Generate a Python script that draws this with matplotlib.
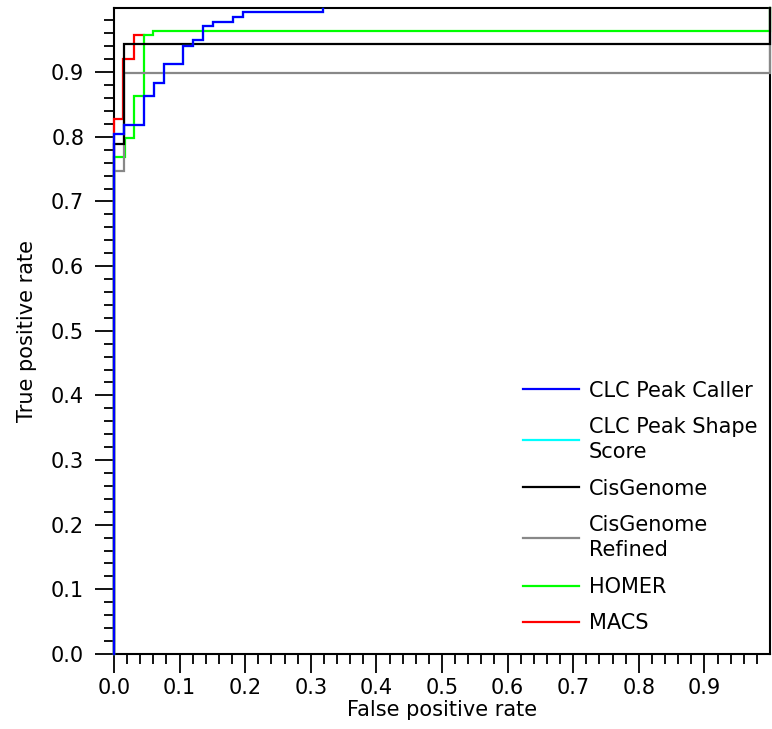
import matplotlib
matplotlib.use("Agg")
import matplotlib.pyplot as plt
import numpy as np

plt.rcParams['font.family'] = ['DejaVu Sans']

# ROC step curves (FPR, TPR)
clc_fpr = [0.0, 0.0, 0.015, 0.015, 0.046, 0.046, 0.061, 0.061, 0.076, 0.076, 0.105, 0.105,
           0.121, 0.121, 0.136, 0.136, 0.151, 0.151, 0.182, 0.182, 0.197, 0.197, 0.318, 0.318]
clc_tpr = [0.0, 0.804, 0.804, 0.819, 0.819, 0.863, 0.863, 0.883, 0.883, 0.913, 0.913, 0.941,
           0.941, 0.949, 0.949, 0.971, 0.971, 0.978, 0.978, 0.985, 0.985, 0.993, 0.993, 0.997]

shape_fpr = clc_fpr
shape_tpr = clc_tpr

cis_fpr = [0.0, 0.0, 0.015, 0.015, 1.0, 1.0]
cis_tpr = [0.0, 0.789, 0.789, 0.943, 0.943, 1.0]

cisref_fpr = [0.0, 0.0, 0.015, 0.015, 1.0, 1.0]
cisref_tpr = [0.0, 0.747, 0.747, 0.899, 0.899, 1.0]

homer_fpr = [0.0, 0.0, 0.017, 0.017, 0.031, 0.031, 0.045, 0.045, 0.060, 0.060, 1.0, 1.0]
homer_tpr = [0.0, 0.768, 0.768, 0.798, 0.798, 0.863, 0.863, 0.957, 0.957, 0.964, 0.964, 1.0]

macs_fpr = [0.0, 0.0, 0.013, 0.013, 0.030, 0.030, 0.045]
macs_tpr = [0.0, 0.827, 0.827, 0.920, 0.920, 0.957, 0.957]

labels = ["CLC Peak Caller", "CLC Peak Shape\nScore", "CisGenome",
          "CisGenome\nRefined", "HOMER", "MACS"]
colors = ["#0000ff", "#00ffff", "#000000", "#888888", "#00ff00", "#ff0000"]
series = [(clc_fpr, clc_tpr), (shape_fpr, shape_tpr), (cis_fpr, cis_tpr),
          (cisref_fpr, cisref_tpr), (homer_fpr, homer_tpr), (macs_fpr, macs_tpr)]

x_ticks = [0.0, 0.1, 0.2, 0.3, 0.4, 0.5, 0.6, 0.7, 0.8, 0.9]
y_ticks = [0.0, 0.1, 0.2, 0.3, 0.4, 0.5, 0.6, 0.7, 0.8, 0.9]

FS = 15

fig = plt.figure(figsize=(7.72, 7.29), dpi=100)
ax = fig.add_axes([114/772, 75/729, 656/772, 646.5/729])

n = len(series)
handles = [None]*n
for i in reversed(range(n)):
    fx, ty = series[i]
    h, = ax.plot(fx, ty, color=colors[i], lw=1.6, zorder=2 + (n - i),
                 solid_joinstyle='miter', clip_on=False)
    handles[i] = h

ax.set_xlim(0, 1)
ax.set_ylim(0, 1)
ax.set_xticks(x_ticks)
ax.set_yticks(y_ticks)
ax.set_xticklabels([f"{v:.1f}" for v in x_ticks])
ax.set_yticklabels([f"{v:.1f}" for v in y_ticks])
ax.set_xticks(np.arange(0, 1.0, 0.02), minor=True)
ax.set_yticks(np.arange(0, 1.0, 0.02), minor=True)
ax.tick_params(which='major', length=13.5, width=1.3, labelsize=FS, pad=4, direction='out')
ax.tick_params(which='minor', length=7, width=1.3, direction='out')
ax.tick_params(axis='y', which='major', pad=8)
for s in ax.spines.values():
    s.set_linewidth(1.5)

ax.set_xlabel("False positive rate", fontsize=FS, labelpad=1)
ax.set_ylabel("True positive rate", fontsize=FS, labelpad=10)

leg = ax.legend(handles, labels, loc='lower right', frameon=False, fontsize=FS,
                handlelength=2.7, handletextpad=0.48, labelspacing=0.8,
                bbox_to_anchor=(1.0, 0.0124), borderaxespad=0.2)
for t in leg.get_texts():
    t.set_linespacing(1.3)

fig.savefig("out.png", dpi=100)
